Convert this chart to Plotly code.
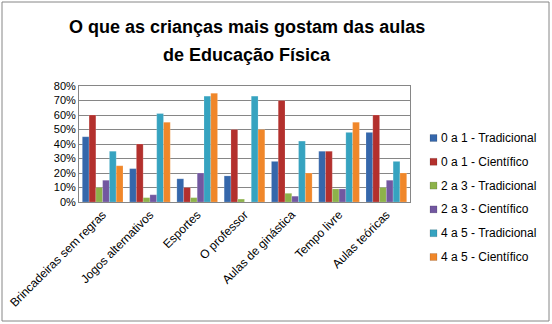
import plotly.graph_objects as go

categories = ["Brincadeiras sem regras", "Jogos alternativos", "Esportes", "O professor",
              "Aulas de ginástica", "Tempo livre", "Aulas teóricas"]
series_names = ["0 a 1 - Tradicional", "0 a 1 - Científico", "2 a 3 - Tradicional",
                "2 a 3 - Científico", "4 a 5 - Tradicional", "4 a 5 - Científico"]
s0_1_trad = [0.45, 0.23, 0.16, 0.18, 0.28, 0.35, 0.48]
s0_1_cien = [0.60, 0.40, 0.10, 0.50, 0.70, 0.35, 0.60]
s2_3_trad = [0.10, 0.03, 0.03, 0.02, 0.06, 0.09, 0.10]
s2_3_cien = [0.15, 0.05, 0.20, 0.00, 0.04, 0.09, 0.15]
s4_5_trad = [0.35, 0.61, 0.73, 0.73, 0.42, 0.48, 0.28]
s4_5_cien = [0.25, 0.55, 0.75, 0.50, 0.20, 0.55, 0.20]
title_lines = ["O que as crianças mais gostam das aulas", "de Educação Física"]
colors = ["#3567AB", "#B3302D", "#8DB24A", "#7257A0", "#36A3C0", "#F0872A"]
values = [s0_1_trad, s0_1_cien, s2_3_trad, s2_3_cien, s4_5_trad, s4_5_cien]

W, H = 552, 324
L, R, T, B = 79, 142, 86, 122
pw, ph = W - L - R, H - T - B

def px_x(x):
    return (x - L) / pw

def px_y(y):
    return (H - B - y) / ph

fig = go.Figure()
for i, (name, vals) in enumerate(zip(series_names, values)):
    fig.add_trace(go.Bar(x=categories, y=vals, name=name, showlegend=False,
                         marker=dict(color=colors[i], line=dict(color="rgba(255,255,255,0.35)", width=0.5))))

font = "Liberation Sans, Arial, sans-serif"
annotations = []
for k, line in enumerate(title_lines):
    annotations.append(dict(text="<b>%s</b>" % line, xref="paper", yref="paper",
                            x=px_x(247), y=px_y(27 + 28 * k),
                            xanchor="center", yanchor="middle", showarrow=False,
                            font=dict(family=font, size=18, color="#000")))

shapes = [dict(type="rect", xref="paper", yref="paper",
               x0=px_x(2), x1=px_x(W - 3), y0=px_y(H - 3), y1=px_y(2),
               line=dict(color="#868686", width=1))]

# legend (drawn manually to match the compact Excel-style legend)
for i, name in enumerate(series_names):
    yc = 138 + 23.8 * i
    shapes.append(dict(type="rect", xref="paper", yref="paper",
                       x0=px_x(430), x1=px_x(437), y0=px_y(yc + 3.5), y1=px_y(yc - 3.5),
                       fillcolor=colors[i], line=dict(color="rgba(0,0,0,0.25)", width=0.5)))
    annotations.append(dict(text=name, xref="paper", yref="paper",
                            x=px_x(439), y=px_y(yc), xanchor="left", yanchor="middle",
                            showarrow=False, font=dict(family=font, size=12, color="#000")))

fig.update_layout(
    width=W, height=H,
    margin=dict(l=L, r=R, t=T, b=B, autoexpand=False),
    paper_bgcolor="white", plot_bgcolor="white",
    barmode="group", bargap=0.14, bargroupgap=0.0,
    font=dict(family=font, size=11, color="#000"),
    showlegend=False,
    xaxis=dict(tickangle=-45, showgrid=False, showline=True, linecolor="#868686",
               ticks="", tickfont=dict(size=12), mirror=True),
    yaxis=dict(range=[0, 0.8], dtick=0.1, tickformat=".0%", showgrid=True, gridcolor="#868686",
               showline=True, linecolor="#868686", mirror=True, ticks="", zeroline=False,
               tickfont=dict(size=11)),
    annotations=annotations,
    shapes=shapes,
)
fig.write_html("out.html")
